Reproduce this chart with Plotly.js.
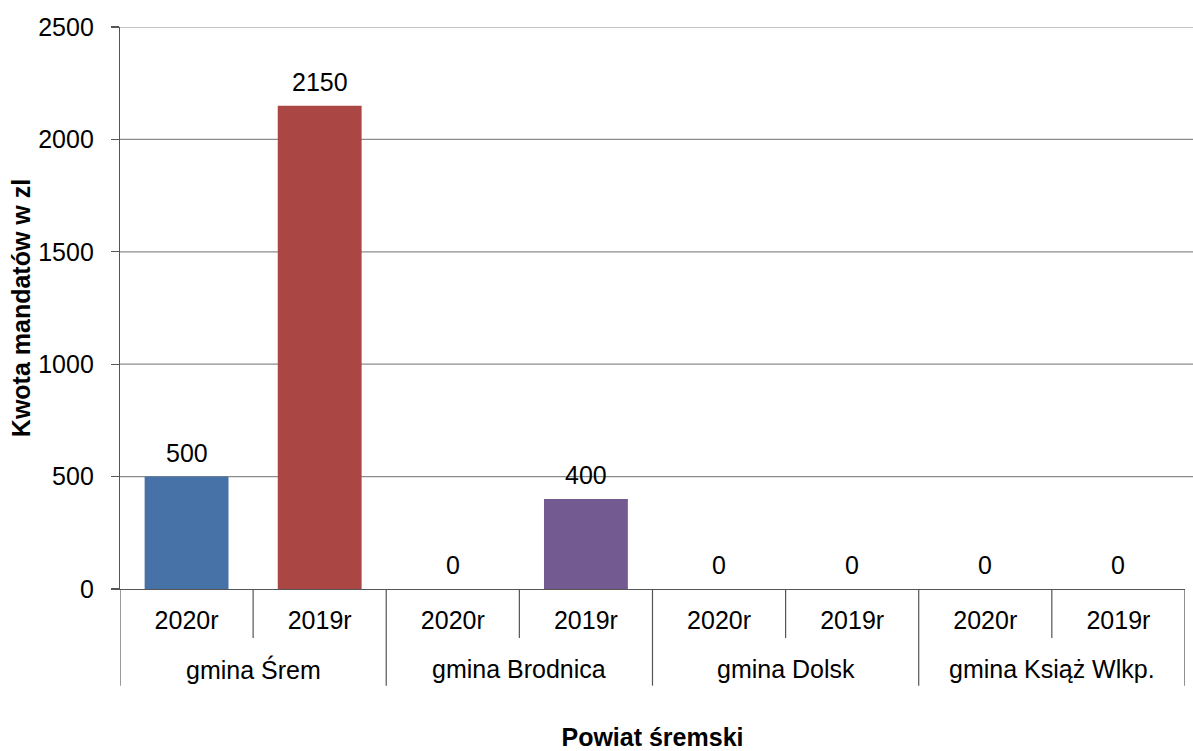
<!DOCTYPE html>
<html>
<head>
<meta charset="utf-8">
<script src="https://cdn.plot.ly/plotly-3.0.1.min.js"></script>
<style>html,body{margin:0;padding:0;background:#fff;}#chart{width:1193px;height:751px;}</style>
</head>
<body>
<div id="chart"></div>
<script>
const groups = ["gmina Śrem", "gmina Brodnica", "gmina Dolsk", "gmina Książ Wlkp."];
const years = ["2020r", "2019r"];
const values = [500, 2150, 0, 400, 0, 0, 0, 0];
const barColors = ["#4672A8", "#AA4643", "#4672A8", "#735A91", "#4672A8", "#AA4643", "#4672A8", "#AA4643"];
const yTicks = [0, 500, 1000, 1500, 2000, 2500];
const yTitle = "Kwota mandatów w zl";
const xTitle = "Powiat śremski";

const FONT = "Liberation Sans, Arial, sans-serif";
const n = values.length;
const xs = values.map((_, i) => i);
const subLabels = xs.map(i => years[i % years.length]);

const shapes = [];
// horizontal gridlines
yTicks.slice(1).forEach(v => shapes.push({type: "line", xref: "paper", yref: "y", x0: 0, x1: 1, y0: v, y1: v, line: {color: "#8c8c8c", width: 1.2}, layer: "below"}));
// dividers
for (let k = 0; k <= groups.length; k++) {
  const xv = k * years.length - 0.5;
  shapes.push({type: "line", xref: "x", yref: "paper", x0: xv, x1: xv, y0: 0, y1: -0.172, line: {color: "#555", width: 1.2}});
}
for (let k = 0; k < groups.length; k++) {
  const xv = k * years.length + 0.5;
  shapes.push({type: "line", xref: "x", yref: "paper", x0: xv, x1: xv, y0: 0, y1: -0.087, line: {color: "#555", width: 1.2}});
}
const annotations = [];
groups.forEach((g, k) => annotations.push({xref: "x", yref: "paper", x: k * years.length + 0.5, y: 0, yanchor: "middle", yshift: -80, text: g, showarrow: false, font: {family: FONT, size: 25, color: "#000"}}));
values.forEach((v, i) => annotations.push({xref: "x", yref: "y", x: i, y: v, yanchor: "bottom", yshift: 8, text: String(v), showarrow: false, font: {family: FONT, size: 25, color: "#000"}}));

const trace = {
  type: "bar", x: xs, y: values,
  marker: {color: barColors, line: {width: 0}},
  hoverinfo: "x+y"
};

const layout = {
  width: 1193, height: 751,
  margin: {l: 120, r: 0, t: 27, b: 162},
  paper_bgcolor: "#fff", plot_bgcolor: "#fff",
  showlegend: false,
  bargap: 0.37,
  font: {family: FONT, color: "#000"},
  xaxis: {
    domain: [0, 0.9925],
    range: [-0.5, n - 0.5],
    tickmode: "array", tickvals: xs, ticktext: subLabels,
    ticks: "", showgrid: false, zeroline: false,
    showline: true, linecolor: "#555", linewidth: 1.2,
    tickfont: {family: FONT, size: 25, color: "#000"},
    ticklabelstandoff: 9,
    title: {text: xTitle, font: {family: FONT, size: 25, color: "#000", weight: "bold"}, standoff: 109},
    automargin: false, fixedrange: true
  },
  yaxis: {
    range: [0, 2500],
    tickmode: "array", tickvals: yTicks,
    ticks: "outside", ticklen: 8, tickcolor: "#555", tickwidth: 1.2,
    showgrid: false, zeroline: false,
    showline: true, linecolor: "#555", linewidth: 1.2,
    tickfont: {family: FONT, size: 25, color: "#000"},
    ticklabelstandoff: 12,
    title: {text: yTitle, font: {family: FONT, size: 25, color: "#000", weight: "bold"}, standoff: 0},
    automargin: false, fixedrange: true
  },
  shapes: shapes,
  annotations: annotations
};

Plotly.newPlot("chart", [trace], layout, {displayModeBar: false, staticPlot: true});
</script>
</body>
</html>
